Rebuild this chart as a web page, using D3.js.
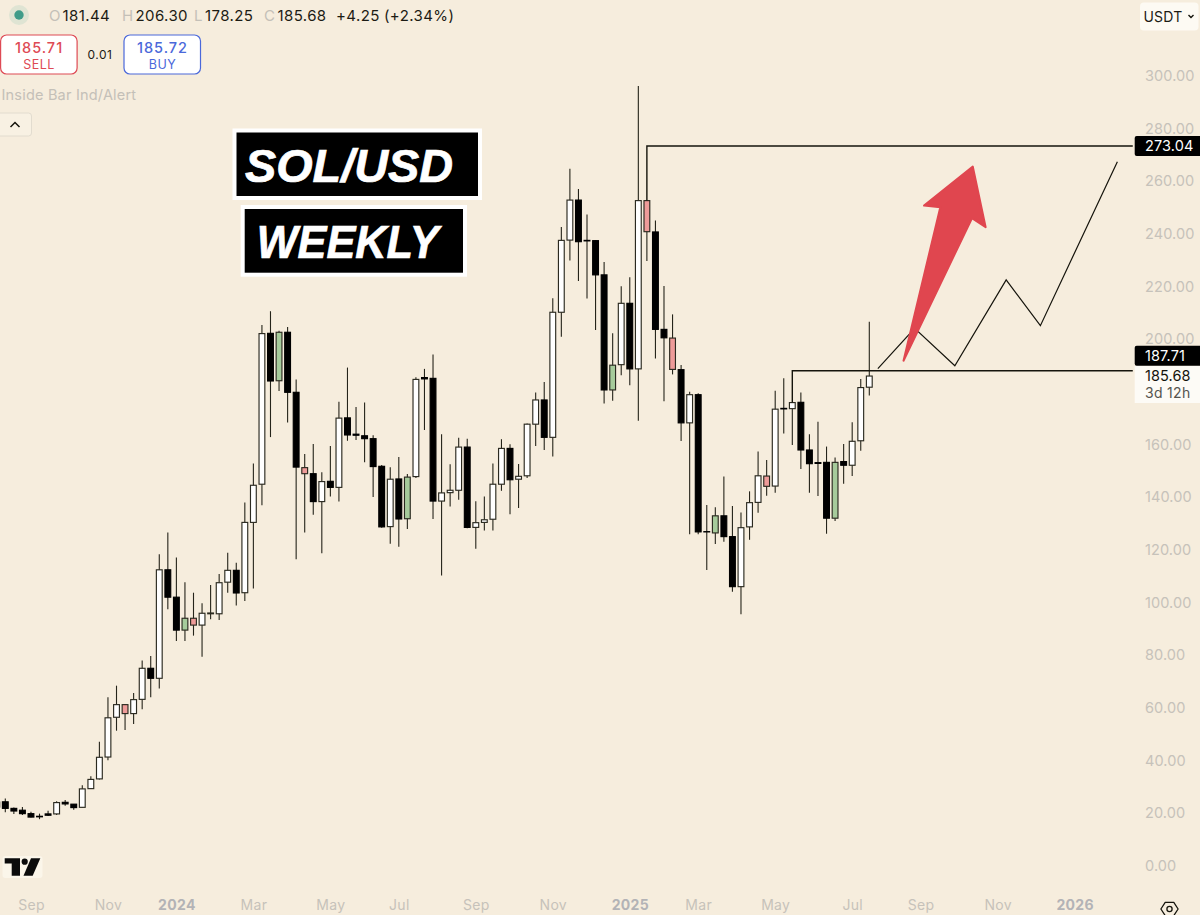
<!DOCTYPE html>
<html>
<head>
<meta charset="utf-8">
<style>
html,body{margin:0;padding:0;background:#f6eddd;overflow:hidden}
svg{display:block}
text{font-family:Inter,"Noto Sans",sans-serif}
</style>
<script src="https://cdn.jsdelivr.net/npm/d3@7/dist/d3.min.js"></script>
</head>
<body>
<svg id="c" width="1200" height="915"></svg>
<script>
const firstWeek = -1;
const highs = [24.7,25.3,21.8,22.0,20.2,19.5,20.6,24.2,24.7,23.2,30.3,33.7,46.8,63.7,68.1,61.0,65.3,77.7,79.4,118.0,126.3,116.8,107.4,103.4,99.4,106.3,110.5,118.6,114.8,137.7,152.5,205.1,210.3,202.9,204.3,184.4,156.1,159.9,149.1,159.1,175.9,188.9,173.9,175.6,163.2,151.9,151.0,154.9,148.5,185.2,188.4,193.9,163.6,152.2,162.2,161.9,138.1,139.9,152.5,161.7,159.8,152.3,167.7,179.4,183.4,215.2,242.3,264.4,256.7,247.0,237.2,229.0,201.9,219.8,223.2,295.8,252.3,244.7,219.9,209.1,189.9,179.7,179.1,136.7,135.9,147.5,136.3,133.9,141.9,157.0,153.8,180.1,184.8,175.6,179.4,163.6,168.3,158.9,154.7,159.9,168.1,184.6,206.30];
const lows = [20.9,20.0,19.4,19.0,18.0,17.4,18.6,19.0,22.5,21.0,21.8,28.9,32.5,39.8,51.0,51.3,53.5,59.1,63.7,67.0,97.1,85.1,85.1,87.1,79.1,93.3,93.0,103.4,98.5,100.3,105.0,136.6,162.5,180.0,168.0,116.1,126.3,133.0,118.4,139.9,138.0,161.1,161.4,152.9,139.7,128.1,122.0,120.9,127.6,147.0,165.2,131.4,109.9,136.1,138.7,127.9,120.1,127.0,127.0,142.1,133.2,135.6,147.0,159.1,157.6,155.1,200.6,229.6,221.8,215.1,203.2,175.3,176.3,186.0,182.2,168.7,229.4,192.3,176.1,186.3,161.0,125.6,125.6,112.0,121.9,122.8,103.8,95.2,123.5,133.8,140.2,141.4,163.9,159.5,150.4,141.4,140.1,125.8,130.6,144.8,147.7,157.3,178.25];
const opens = [23.9,24.0,21.5,20.8,19.5,18.5,19.4,19.4,23.8,23.1,21.9,29.0,32.7,41.0,56.1,60.9,57.5,62.9,74.7,70.9,112.1,101.7,89.2,93.7,91.1,95.4,95.4,107.4,111.9,103.4,130.1,144.6,201.9,183.9,202.3,179.5,150.9,148.6,138.0,145.7,143.4,169.8,163.6,163.0,161.9,151.4,128.5,146.6,131.5,147.5,185.1,184.8,138.2,141.4,142.3,158.7,128.2,130.1,131.3,144.6,158.2,146.5,147.8,167.4,176.6,162.4,209.9,237.3,252.5,237.2,237.1,224.1,180.4,190.0,213.3,188.4,252.3,240.4,203.4,200.1,188.1,167.9,178.6,126.6,126.1,132.6,124.7,105.7,128.4,137.7,147.7,143.9,173.4,173.3,175.7,157.6,152.8,152.9,131.7,153.2,151.8,161.1,181.44];
const closes = [22.0,21.5,20.5,19.5,18.2,18.3,18.9,23.7,23.2,21.8,28.9,32.5,40.9,55.9,60.9,57.5,62.8,74.7,70.9,112.1,101.7,89.2,93.7,91.1,95.6,95.7,107.2,111.9,103.3,130.1,144.2,201.8,183.8,202.3,179.5,151.1,148.6,138.0,145.6,143.4,169.7,163.3,163.2,161.9,151.3,128.4,146.5,131.4,147.3,184.4,184.6,138.2,141.3,142.3,158.7,128.2,130.0,131.1,144.6,158.2,146.3,147.6,167.4,176.6,162.4,209.9,237.2,252.5,236.7,237.0,224.1,180.4,189.8,213.3,188.4,252.3,240.5,203.4,200.2,188.2,167.9,178.6,126.5,126.5,132.6,124.7,105.7,128.1,137.6,147.8,143.8,173.1,173.2,175.6,157.6,152.4,152.5,131.7,152.9,151.8,160.9,181.3,185.68];
const greenWeeks = [21,32,47,71,83,97];
const redWeeks = [14,22,35,75,78,89];

const priceTicks = [0,20,40,60,80,100,120,140,160,180,200,220,240,260,280,300];
const timeWeeks = [3,12,20,29,38,46,55,64,73,81,90,99,107,116,125];
const timeLabels = ["Sep","Nov","2024","Mar","May","Jul","Sep","Nov","2025","Mar","May","Jul","Sep","Nov","2026"];

const upperLevelWeeks = [75,75,131.8];
const upperLevelPrices = [252.3,273.04,273.04];
const lowerLevelWeeks = [92,92,131.8];
const lowerLevelPrices = [175.6,187.71,187.71];
const projectionWeeks = [102,106.3,111,117,121,130];
const projectionPrices = [188.5,203.8,189.6,222.2,204.8,267.1];
const arrowWeeks = [105,109.3,107.4,113.1,114.6,113];
const arrowPrices = [191.5,249.8,250.4,265.2,242.2,245.6];

const quoteParts = [["O","181.44",49],["H","206.30",122],["L","178.25",194],["C","185.68",264]];

const svg = d3.select("#c");
const x = d3.scaleLinear().domain([0,101]).range([5.3,869.3]);
const y = d3.scaleLinear().domain([0,300]).range([865,75]);
const ink = "#15140c", grey = "#c6c2ba";

/* axes */
const yAxis = d3.axisRight(y).tickValues(priceTicks).tickSize(0).tickPadding(0).tickFormat(d3.format(".2f"));
const ya = svg.append("g").attr("transform","translate(1145,0.7)").call(yAxis);
ya.select(".domain").remove();
ya.selectAll("text").attr("fill",grey).style("font-size","14.5px").style("letter-spacing","0.1px").style("font-family","Inter");

const xAxis = d3.axisBottom(x).tickValues(timeWeeks).tickSize(0).tickPadding(0)
  .tickFormat((d,i)=>timeLabels[i]);
const xa = svg.append("g").attr("transform","translate(0,900.5)").call(xAxis);
xa.select(".domain").remove();
xa.selectAll("text").attr("fill",(d,i)=>/^\d/.test(timeLabels[i])?"#b3b3b6":grey)
  .style("font-size","14px").style("font-family","Inter").style("letter-spacing","0.3px")
  .style("font-weight",(d,i)=>/^\d/.test(timeLabels[i])?700:400);

/* candles */
const bars = highs.map((h,i)=>({w:i+firstWeek,h,l:lows[i],o:opens[i],c:closes[i]}));
const fillOf = d => greenWeeks.includes(d.w) ? "#a6cb9b"
  : redWeeks.includes(d.w) ? "#ee9b99"
  : d.c>=d.o ? "#ffffff" : "#000000";
const g = svg.append("g");
g.selectAll("line.w").data(bars).join("line").attr("class","w")
  .attr("x1",d=>x(d.w)).attr("x2",d=>x(d.w)).attr("y1",d=>y(d.h)).attr("y2",d=>y(d.l))
  .attr("stroke","#25241a").attr("stroke-width",1.1);
g.selectAll("rect.b").data(bars).join("rect").attr("class","b")
  .attr("x",d=>x(d.w)-2.9).attr("width",5.8)
  .attr("y",d=>y(Math.max(d.o,d.c))).attr("height",d=>Math.max(0.3,Math.abs(y(d.o)-y(d.c))))
  .attr("fill",fillOf).attr("stroke",d=>fillOf(d)==="#000000"?"#000":"#2b2a20").attr("stroke-width",1.15);

/* drawings */
const line = (ws,ps)=>d3.line().x(i=>x(ws[i])).y(i=>y(ps[i]))(d3.range(ws.length));
[[upperLevelWeeks,upperLevelPrices,1.4],[lowerLevelWeeks,lowerLevelPrices,1.4],[projectionWeeks,projectionPrices,1.2]].forEach(([w,p,s])=>{
  svg.append("path").attr("d",line(w,p)).attr("fill","none").attr("stroke",ink).attr("stroke-width",s);
});
svg.append("path").attr("d",line(arrowWeeks,arrowPrices)+"Z")
  .attr("fill","#e0464f").attr("stroke","#e0464f").attr("stroke-width",2).attr("stroke-linejoin","round");

/* title boxes */
function box(xo,yo,w,h,label,tx,bl,len,fs){
  svg.append("rect").attr("x",xo+2).attr("y",yo+2).attr("width",w-4).attr("height",h-4)
    .attr("fill","#000").attr("stroke","#fff").attr("stroke-width",4);
  svg.append("text").attr("x",tx).attr("y",bl).text(label).attr("fill","#fff").attr("stroke","#fff").attr("stroke-width",0.7)
    .attr("textLength",len).attr("lengthAdjust","spacingAndGlyphs")
    .style("font-family","'Liberation Sans'").style("font-weight",700).style("font-style","italic").style("font-size",fs+"px");
}
box(232.5,128.5,249.5,71.5,"SOL/USD",245,181.7,208,46);
box(240.7,205,226.3,71.7,"WEEKLY",256.7,258.3,182,46);

/* header */
svg.append("circle").attr("cx",19).attr("cy",15).attr("r",10).attr("fill","#dfe4d3");
svg.append("circle").attr("cx",19).attr("cy",15).attr("r",4.7).attr("fill","#3f9c89");
const hdr = (t,xp,c)=>svg.append("text").attr("x",xp).attr("y",21).text(t).attr("fill",c)
  .style("font-size","15px").style("letter-spacing","0.4px");
quoteParts.forEach(([k,v,xp])=>{
  hdr(k,xp,"#c4c0b8"); hdr(v,xp+(k==="L"?11:13.5),"#1c1b14");
});
hdr("+4.25",336,"#1c1b14"); hdr("(+2.34%)",384,"#1c1b14");

function btn(xl,c,price,label){
  svg.append("rect").attr("x",xl).attr("y",35).attr("width",76.5).attr("height",39).attr("rx",6)
    .attr("fill","#fff").attr("stroke",c).attr("stroke-width",1.2);
  svg.append("text").attr("x",xl+38.5).attr("y",53).attr("text-anchor","middle").text(price).attr("fill",c)
    .style("font-size","14.5px").style("letter-spacing","1px").style("font-weight",500);
  svg.append("text").attr("x",xl+38.5).attr("y",69).attr("text-anchor","middle").text(label).attr("fill",c)
    .style("font-size","12.5px").style("letter-spacing","0.5px");
}
btn(0.6,"#de4a55","185.71","SELL");
btn(124,"#4a68da","185.72","BUY");
svg.append("text").attr("x",100).attr("y",59).attr("text-anchor","middle").text("0.01").attr("fill","#1c1b14")
  .style("font-size","12px").style("letter-spacing","0.5px");
svg.append("text").attr("x",1.5).attr("y",100).text("Inside Bar Ind/Alert").attr("fill","#c4c0b8")
  .style("font-size","14.5px").style("letter-spacing","0.2px");
svg.append("rect").attr("x",-4).attr("y",113).attr("width",35.5).attr("height",23).attr("rx",3)
  .attr("fill","#f8f1e3").attr("stroke","#e2dccf").attr("stroke-width",1);
svg.append("path").attr("d","M10.5,127L15,122.5L19.5,127").attr("fill","none").attr("stroke","#15140c").attr("stroke-width",1.5);

/* USDT */
svg.append("rect").attr("x",1140).attr("y",2.5).attr("width",58.5).attr("height",28).attr("rx",4).attr("fill","#fdfaf3");
svg.append("text").attr("x",1143.5).attr("y",22).text("USDT").attr("fill","#1c1b14").style("font-size","14px").style("letter-spacing","0.2px");
svg.append("path").attr("d","M1188.5,15L1191,17.5L1193.5,15").attr("fill","none").attr("stroke","#15140c").attr("stroke-width",1.4);

/* price labels */
function tag(price,off){
  const c = y(price)+off;
  svg.append("rect").attr("x",1134.7).attr("y",c-10).attr("width",70).attr("height",20).attr("rx",2).attr("fill","#000");
  svg.append("text").attr("x",1145).attr("y",c+5.2).text(d3.format(".2f")(price)).attr("fill","#fff")
    .style("font-size","14.5px").style("letter-spacing","0.1px");
}
tag(273.04,0);
tag(187.71,-15);
svg.append("rect").attr("x",1134.7).attr("y",366).attr("width",70).attr("height",37).attr("fill","#fdfbf6");
svg.append("text").attr("x",1145).attr("y",381).text("185.68").attr("fill","#15140c").style("font-size","14.5px").style("letter-spacing","0.1px");
svg.append("text").attr("x",1145).attr("y",398).text("3d 12h").attr("fill","#55544e").style("font-size","14px").style("letter-spacing","0.3px");

/* logo */
svg.append("rect").attr("x",2.5).attr("y",856).attr("width",40).attr("height",22).attr("rx",3).attr("fill","#fbf6ea");
svg.append("path").attr("fill","#0b0b0b").attr("d","M4.7,858.3H20V875.7H11.7V863.5H4.7Z");
svg.append("circle").attr("cx",24.7).attr("cy",861.7).attr("r",3.1).attr("fill","#0b0b0b");
svg.append("path").attr("fill","#0b0b0b").attr("d","M31,858.3H40.3L32.7,875.7H23.5Z");

/* settings */
svg.append("path").attr("d",d3.range(6).map(i=>{const a=i*Math.PI/3;return (i?"L":"M")+(1169.5+8.6*Math.cos(a)).toFixed(1)+","+(909+7.6*Math.sin(a)).toFixed(1)}).join("")+"Z")
  .attr("fill","none").attr("stroke","#15140c").attr("stroke-width",1.3).attr("stroke-linejoin","round");
svg.append("circle").attr("cx",1169.5).attr("cy",909).attr("r",2.6).attr("fill","none").attr("stroke","#15140c").attr("stroke-width",1.3);
</script>
</body>
</html>
